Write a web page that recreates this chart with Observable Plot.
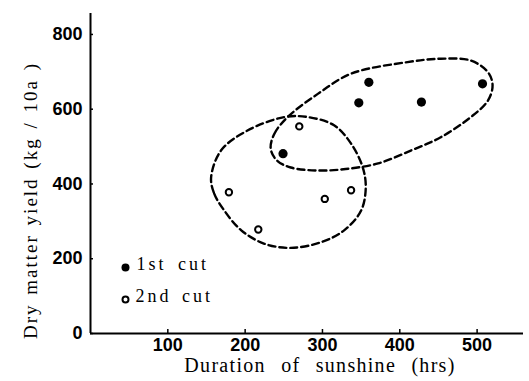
<!DOCTYPE html>
<html>
<head>
<meta charset="utf-8">
<script src="https://cdn.jsdelivr.net/npm/d3@7"></script>
<script src="https://cdn.jsdelivr.net/npm/@observablehq/plot@0.6"></script>
<style>
  html, body { margin: 0; padding: 0; background: #fff; }
  #chart { width: 529px; height: 381px; }
</style>
</head>
<body>
<div id="chart"></div>
<script>
// Sunshine duration (hrs) and dry matter yield (kg/10a)
const firstCutX = [249, 347, 360, 428, 507];
const firstCutY = [481, 617, 672, 619, 668];
const secondCutX = [179, 217, 270, 303, 337];
const secondCutY = [378, 278, 554, 360, 383];

// Dashed enclosing outlines (hand-drawn groupings)
const firstHullX = [233, 238, 255, 294, 337, 410, 453, 492, 514, 520, 514, 492, 453, 415, 372, 330, 294, 259, 241];
const firstHullY = [495, 535, 579, 641, 695, 726, 735, 730, 699, 664, 623, 579, 525, 490, 455, 440, 436, 444, 463];
const secondHullX = [156, 160, 173, 195, 225, 259, 298, 328, 350, 356, 352, 337, 315, 281, 251, 203, 169];
const secondHullY = [418, 374, 329, 276, 240, 229, 244, 276, 329, 391, 445, 508, 557, 579, 579, 543, 490];

const xTicks = [100, 200, 300, 400, 500];
const yTicks = [0, 200, 400, 600, 800];
const legendLabels = ["1st cut", "2nd cut"];
const xTitle = "Duration of sunshine (hrs)";
const yTitle = "Dry matter yield (kg / 10a )";

const first = firstCutX.map((x, i) => ({x, y: firstCutY[i]}));
const second = secondCutX.map((x, i) => ({x, y: secondCutY[i]}));
const hull1 = firstHullX.map((x, i) => ({x, y: firstHullY[i]}));
const hull2 = secondHullX.map((x, i) => ({x, y: secondHullY[i]}));

const tickFont = "'Liberation Sans', Arial, sans-serif";
const serif = "'Liberation Serif', 'Times New Roman', serif";

const chart = Plot.plot({
  width: 529,
  height: 381,
  marginLeft: 90,
  marginRight: 6,
  marginTop: 13,
  marginBottom: 48,
  style: {background: "#fff", color: "#000"},
  x: {domain: [0, 560]},
  y: {domain: [0, 856]},
  marks: [
    Plot.axisX({ticks: xTicks, tickSize: -4, tickPadding: 9, label: null,
      fontSize: 18, fontWeight: "bold", fontFamily: tickFont, stroke: "#000", strokeWidth: 1.5}),
    Plot.axisY({ticks: yTicks, tickSize: -3, tickPadding: 11, label: null,
      fontSize: 18, fontWeight: "bold", fontFamily: tickFont, stroke: "#000", strokeWidth: 1.5}),
    Plot.ruleX([0], {stroke: "#000", strokeWidth: 2}),
    Plot.ruleY([0], {stroke: "#000", strokeWidth: 2}),
    Plot.line(hull1, {x: "x", y: "y", curve: "catmull-rom-closed", stroke: "#000",
      strokeWidth: 2.4, strokeDasharray: "7,4"}),
    Plot.line(hull2, {x: "x", y: "y", curve: "catmull-rom-closed", stroke: "#000",
      strokeWidth: 2.4, strokeDasharray: "7,4"}),
    Plot.dot(first, {x: "x", y: "y", r: 4.6, fill: "#000", stroke: "none"}),
    Plot.dot(second, {x: "x", y: "y", r: 3.2, fill: "#fff", stroke: "#000", strokeWidth: 2}),
    // legend
    Plot.dot([legendLabels[0]], {frameAnchor: "bottom-left", dx: 35, dy: -66, r: 4, fill: "#000"}),
    Plot.dot([legendLabels[1]], {frameAnchor: "bottom-left", dx: 35, dy: -34, r: 3, fill: "#fff", stroke: "#000", strokeWidth: 2}),
    Plot.text([legendLabels[0]], {text: d => d, frameAnchor: "bottom-left", dx: 46, dy: -64,
      textAnchor: "start", fontSize: 18, fontFamily: serif, fill: "#000"}),
    Plot.text([legendLabels[1]], {text: d => d, frameAnchor: "bottom-left", dx: 45, dy: -32,
      textAnchor: "start", fontSize: 18, fontFamily: serif, fill: "#000"}),
    // axis titles
    Plot.text([xTitle], {text: d => d, frameAnchor: "bottom", dx: 13, dy: 38,
      fontSize: 20, fontFamily: serif, fill: "#000"}),
    Plot.text([yTitle], {text: d => d, frameAnchor: "left", textAnchor: "middle", dx: -60, dy: 27,
      rotate: -90, fontSize: 19, fontFamily: serif, fill: "#000"})
  ]
});

// typographic spacing like the original print
const spacing = new Map([
  [xTitle, ["1.3px", "9px"]],
  [yTitle, ["2px", "2px"]],
  [legendLabels[0], ["3px", "4px"]],
  [legendLabels[1], ["3px", "3px"]]
]);
d3.select(chart).selectAll("text").each(function () {
  const s = spacing.get(this.textContent);
  if (s) {
    this.style.letterSpacing = s[0];
    this.style.wordSpacing = s[1];
  }
});
document.getElementById("chart").appendChild(chart);
</script>
</body>
</html>
